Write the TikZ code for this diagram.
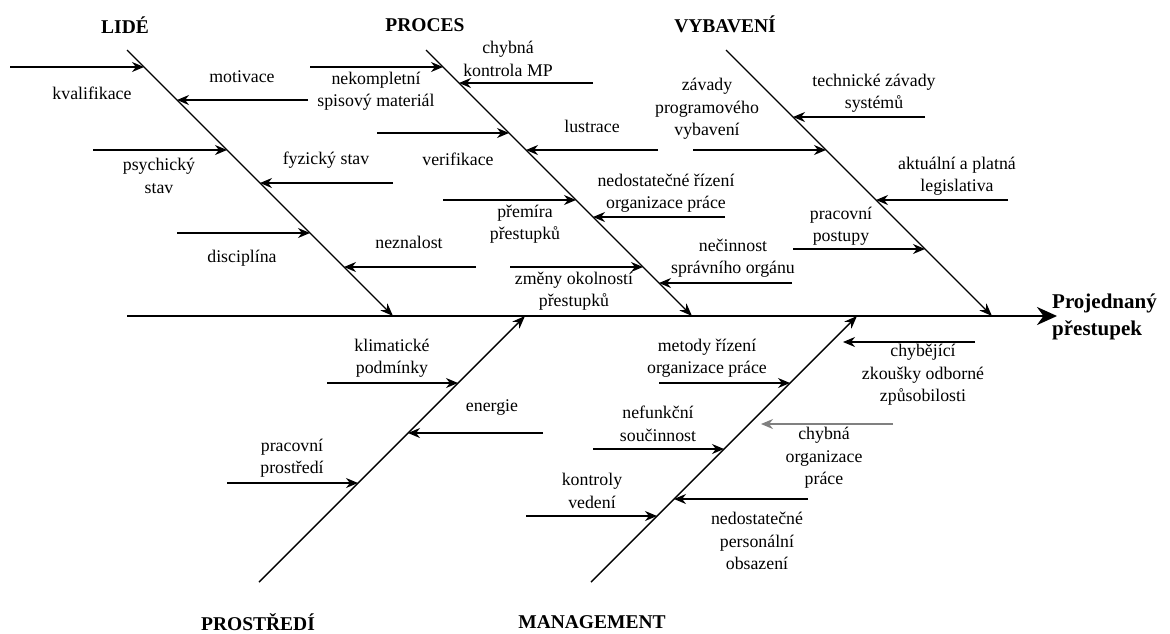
\documentclass[tikz,border=0pt]{standalone}
\usepackage{fontspec}
\setmainfont{Liberation Serif}
\usepackage{tikz}
\usetikzlibrary{arrows.meta,positioning}

\begin{document}
\begin{tikzpicture}[
	spine/.style={draw=black,line width=2.6pt,-{Stealth[length=20pt,width=18pt]}},
	bone/.style={draw=black,line width=1.4pt,-{Stealth[length=13pt,width=10pt]}},
	cause/.style={draw=black,line width=1.2pt,-{Stealth[length=12pt,width=10pt]}},
	lbl/.style={align=center,inner sep=0pt,font=\fontsize{17.8}{22.5}\selectfont},
	head/.style={inner sep=0pt,font=\fontsize{19.5}{23}\selectfont\bfseries},
	]
	\useasboundingbox (0pt,-633pt) rectangle (1170pt,0pt);

	% spine and bones
	\coordinate (spA) at (127pt,-316pt);
	\coordinate (spB) at (1057pt,-316pt);
	\coordinate (lideA) at (127pt,-50pt);
	\coordinate (lideB) at (393pt,-316pt);
	\coordinate (procA) at (426pt,-50pt);
	\coordinate (procB) at (692pt,-316pt);
	\coordinate (vybA) at (726pt,-50pt);
	\coordinate (vybB) at (992pt,-316pt);
	\coordinate (prosA) at (259pt,-582pt);
	\coordinate (prosB) at (525pt,-316pt);
	\coordinate (manA) at (591pt,-582pt);
	\coordinate (manB) at (857pt,-316pt);
	\draw[spine] (spA)--(spB);
	\draw[bone] (lideA)--(lideB);
	\draw[bone] (procA)--(procB);
	\draw[bone] (vybA)--(vybB);
	\draw[bone] (prosA)--(prosB);
	\draw[bone] (manA)--(manB);

	\node[head] (lide) at (125pt,-25pt){LIDÉ};
	\node[head] (proces) at (425pt,-25pt){PROCES};
	\node[head] (vybaveni) at (725pt,-24pt){VYBAVENÍ};
	\node[head] (prostredi) at (258pt,-622pt){PROSTŘEDÍ};
	\node[head] (management) at (592pt,-622pt){MANAGEMENT};
	\node[head,anchor=west,align=left,font=\fontsize{21}{27}\selectfont\bfseries] (vysledek) at (1052pt,-317pt){Projednaný\\přestupek};

	% LIDE
	\coordinate (kvalS) at (10pt,-67pt);   \coordinate (kvalE) at (144pt,-67pt);
	\coordinate (psyS) at (93pt,-150pt);   \coordinate (psyE) at (227pt,-150pt);
	\coordinate (discS) at (177pt,-233pt); \coordinate (discE) at (310pt,-233pt);
	\coordinate (motS) at (308pt,-100pt);  \coordinate (motE) at (177pt,-100pt);
	\coordinate (fyzS) at (393pt,-183pt);  \coordinate (fyzE) at (260pt,-183pt);
	\coordinate (nezS) at (476pt,-267pt);  \coordinate (nezE) at (344pt,-267pt);
	\draw[cause] (kvalS)--(kvalE);
	\draw[cause] (psyS)--(psyE);
	\draw[cause] (discS)--(discE);
	\draw[cause] (motS)--(motE);
	\draw[cause] (fyzS)--(fyzE);
	\draw[cause] (nezS)--(nezE);
	\node[lbl] (kval) at (92pt,-93pt){kvalifikace};
	\node[lbl] (psy) at (159pt,-176pt){psychický\\stav};
	\node[lbl] (disc) at (242pt,-258pt){disciplína};
	\node[lbl] (mot) at (242pt,-77pt){motivace};
	\node[lbl] (fyz) at (326pt,-160pt){fyzický stav};
	\node[lbl] (nez) at (409pt,-242pt){neznalost};

	% PROCES
	\coordinate (nekS) at (310pt,-67pt);   \coordinate (nekE) at (443pt,-67pt);
	\coordinate (verS) at (377pt,-133pt);  \coordinate (verE) at (509pt,-133pt);
	\coordinate (preS) at (443pt,-200pt);  \coordinate (preE) at (576pt,-200pt);
	\coordinate (zmeS) at (510pt,-267pt);  \coordinate (zmeE) at (643pt,-267pt);
	\coordinate (konS) at (593pt,-83pt);   \coordinate (konE) at (459pt,-83pt);
	\coordinate (lusS) at (658pt,-150pt);  \coordinate (lusE) at (526pt,-150pt);
	\coordinate (rizS) at (725pt,-217pt);  \coordinate (rizE) at (593pt,-217pt);
	\coordinate (necS) at (792pt,-283pt);  \coordinate (necE) at (659pt,-283pt);
	\draw[cause] (nekS)--(nekE);
	\draw[cause] (verS)--(verE);
	\draw[cause] (preS)--(preE);
	\draw[cause] (zmeS)--(zmeE);
	\draw[cause] (konS)--(konE);
	\draw[cause] (lusS)--(lusE);
	\draw[cause] (rizS)--(rizE);
	\draw[cause] (necS)--(necE);
	\node[lbl] (nek) at (376pt,-91pt){nekompletní\\spisový materiál};
	\node[lbl] (ver) at (458pt,-159pt){verifikace};
	\node[lbl] (pre) at (525pt,-224pt){přemíra\\přestupků};
	\node[lbl] (zme) at (574pt,-291pt){změny okolností\\přestupků};
	\node[lbl] (kon) at (508pt,-59pt){chybná\\kontrola MP};
	\node[lbl] (lus) at (592pt,-126pt){lustrace};
	\node[lbl] (riz) at (666pt,-193pt){nedostatečné řízení\\organizace práce};
	\node[lbl] (nec) at (733pt,-258pt){nečinnost\\správního orgánu};

	% VYBAVENI
	\coordinate (zavS) at (693pt,-150pt);  \coordinate (zavE) at (826pt,-150pt);
	\coordinate (posS) at (793pt,-249pt);  \coordinate (posE) at (925pt,-249pt);
	\coordinate (tecS) at (925pt,-117pt);  \coordinate (tecE) at (793pt,-117pt);
	\coordinate (legS) at (1008pt,-200pt); \coordinate (legE) at (876pt,-200pt);
	\draw[cause] (zavS)--(zavE);
	\draw[cause] (posS)--(posE);
	\draw[cause] (tecS)--(tecE);
	\draw[cause] (legS)--(legE);
	\node[lbl] (zav) at (707pt,-109pt){závady\\programového\\vybavení};
	\node[lbl] (pos) at (841pt,-226pt){pracovní\\postupy};
	\node[lbl] (tec) at (874pt,-93pt){technické závady\\systémů};
	\node[lbl] (leg) at (957pt,-176pt){aktuální a platná\\legislativa};

	% PROSTREDI
	\coordinate (kliS) at (327pt,-383pt);  \coordinate (kliE) at (458pt,-383pt);
	\coordinate (praS) at (227pt,-483pt);  \coordinate (praE) at (358pt,-483pt);
	\coordinate (eneS) at (543pt,-433pt);  \coordinate (eneE) at (408pt,-433pt);
	\draw[cause] (kliS)--(kliE);
	\draw[cause] (praS)--(praE);
	\draw[cause] (eneS)--(eneE);
	\node[lbl] (kli) at (392pt,-358pt){klimatické\\podmínky};
	\node[lbl] (pra) at (292pt,-458pt){pracovní\\prostředí};
	\node[lbl] (ene) at (492pt,-408pt){energie};

	% MANAGEMENT
	\coordinate (metS) at (659pt,-383pt);  \coordinate (metE) at (790pt,-383pt);
	\coordinate (nefS) at (593pt,-449pt);  \coordinate (nefE) at (724pt,-449pt);
	\coordinate (ktrS) at (526pt,-516pt);  \coordinate (ktrE) at (657pt,-516pt);
	\coordinate (zkoS) at (975pt,-342pt);  \coordinate (zkoE) at (843pt,-342pt);
	\coordinate (orgS) at (893pt,-424pt);  \coordinate (orgE) at (761pt,-424pt);
	\coordinate (perS) at (808pt,-499pt);  \coordinate (perE) at (674pt,-499pt);
	\draw[cause] (metS)--(metE);
	\draw[cause] (nefS)--(nefE);
	\draw[cause] (ktrS)--(ktrE);
	\draw[cause] (zkoS)--(zkoE);
	\draw[cause,draw=gray] (orgS)--(orgE);
	\draw[cause] (perS)--(perE);
	\node[lbl] (met) at (707pt,-358pt){metody řízení\\organizace práce};
	\node[lbl] (nef) at (658pt,-424pt){nefunkční\\součinnost};
	\node[lbl] (ktr) at (592pt,-491pt){kontroly\\vedení};
	\node[lbl] (zko) at (923pt,-375pt){chybějící\\zkoušky odborné\\způsobilosti};
	\node[lbl] (org) at (824pt,-458pt){chybná\\organizace\\práce};
	\node[lbl] (per) at (757pt,-541pt){nedostatečné\\personální\\obsazení};
\end{tikzpicture}
\end{document}
